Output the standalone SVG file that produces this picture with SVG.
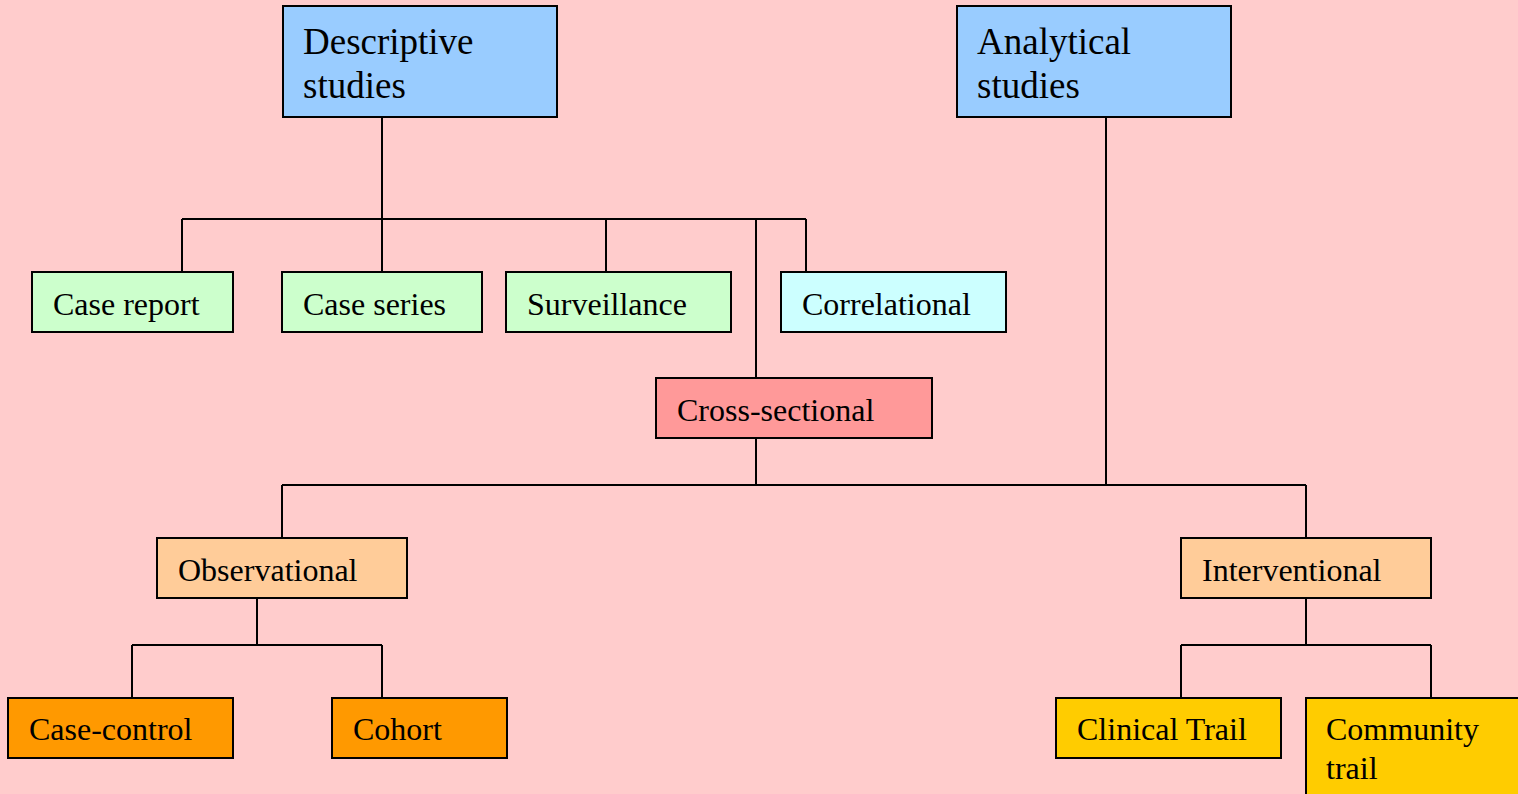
<svg xmlns="http://www.w3.org/2000/svg" width="1518" height="794" viewBox="0 0 1518 794">
  <style>
    .box { stroke: #000; stroke-width: 2; }
    .lbl { font-family: "Liberation Serif", "Times New Roman", serif; font-size: 32px; fill: #000; }
    .big { font-size: 37px; }
    .wire { fill: none; stroke: #000; stroke-width: 2; }
    .blue { fill: #99CCFF; }
    .green { fill: #CCFFCC; }
    .cyan { fill: #CCFFFF; }
    .red { fill: #FF9999; }
    .peach { fill: #FFCC99; }
    .orange { fill: #FF9900; }
    .gold { fill: #FFCC00; }
  </style>
  <rect width="1518" height="794" fill="#FFCCCC"/>

  <g id="connectors" class="wire">
    <!-- descriptive branch -->
    <path d="M382 117 V219 M182 219 H806 M182 219 V272 M382 219 V272 M606 219 V272 M806 219 V272 M756 219 V378"/>
    <!-- cross-sectional / analytical split -->
    <path d="M756 438 V485 M1106 117 V485 M282 485 H1306 M282 485 V538 M1306 485 V538"/>
    <!-- observational -->
    <path d="M257 598 V645 M132 645 H382 M132 645 V698 M382 645 V698"/>
    <!-- interventional -->
    <path d="M1306 598 V645 M1181 645 H1431 M1181 645 V698 M1431 645 V698"/>
  </g>

  <g id="descriptive">
    <rect class="box blue" x="283" y="6" width="274" height="111"/>
    <text class="lbl big" x="303" y="54">Descriptive</text>
    <text class="lbl big" x="303" y="98">studies</text>
  </g>
  <g id="analytical">
    <rect class="box blue" x="957" y="6" width="274" height="111"/>
    <text class="lbl big" x="977" y="54">Analytical</text>
    <text class="lbl big" x="977" y="98">studies</text>
  </g>

  <g id="case-report">
    <rect class="box green" x="32" y="272" width="201" height="60"/>
    <text class="lbl" x="53" y="315">Case report</text>
  </g>
  <g id="case-series">
    <rect class="box green" x="282" y="272" width="200" height="60"/>
    <text class="lbl" x="303" y="315">Case series</text>
  </g>
  <g id="surveillance">
    <rect class="box green" x="506" y="272" width="225" height="60"/>
    <text class="lbl" x="527" y="315">Surveillance</text>
  </g>
  <g id="correlational">
    <rect class="box cyan" x="781" y="272" width="225" height="60"/>
    <text class="lbl" x="802" y="315">Correlational</text>
  </g>
  <g id="cross-sectional">
    <rect class="box red" x="656" y="378" width="276" height="60"/>
    <text class="lbl" x="677" y="421">Cross-sectional</text>
  </g>

  <g id="observational">
    <rect class="box peach" x="157" y="538" width="250" height="60"/>
    <text class="lbl" x="178" y="581">Observational</text>
  </g>
  <g id="interventional">
    <rect class="box peach" x="1181" y="538" width="250" height="60"/>
    <text class="lbl" x="1202" y="581">Interventional</text>
  </g>

  <g id="case-control">
    <rect class="box orange" x="8" y="698" width="225" height="60"/>
    <text class="lbl" x="29" y="740">Case-control</text>
  </g>
  <g id="cohort">
    <rect class="box orange" x="332" y="698" width="175" height="60"/>
    <text class="lbl" x="353" y="740">Cohort</text>
  </g>
  <g id="clinical-trail">
    <rect class="box gold" x="1056" y="698" width="225" height="60"/>
    <text class="lbl" x="1077" y="740">Clinical Trail</text>
  </g>
  <g id="community-trail">
    <rect class="box gold" x="1306" y="698" width="230" height="110"/>
    <text class="lbl" x="1326" y="740">Community</text>
    <text class="lbl" x="1326" y="779">trail</text>
  </g>
</svg>
